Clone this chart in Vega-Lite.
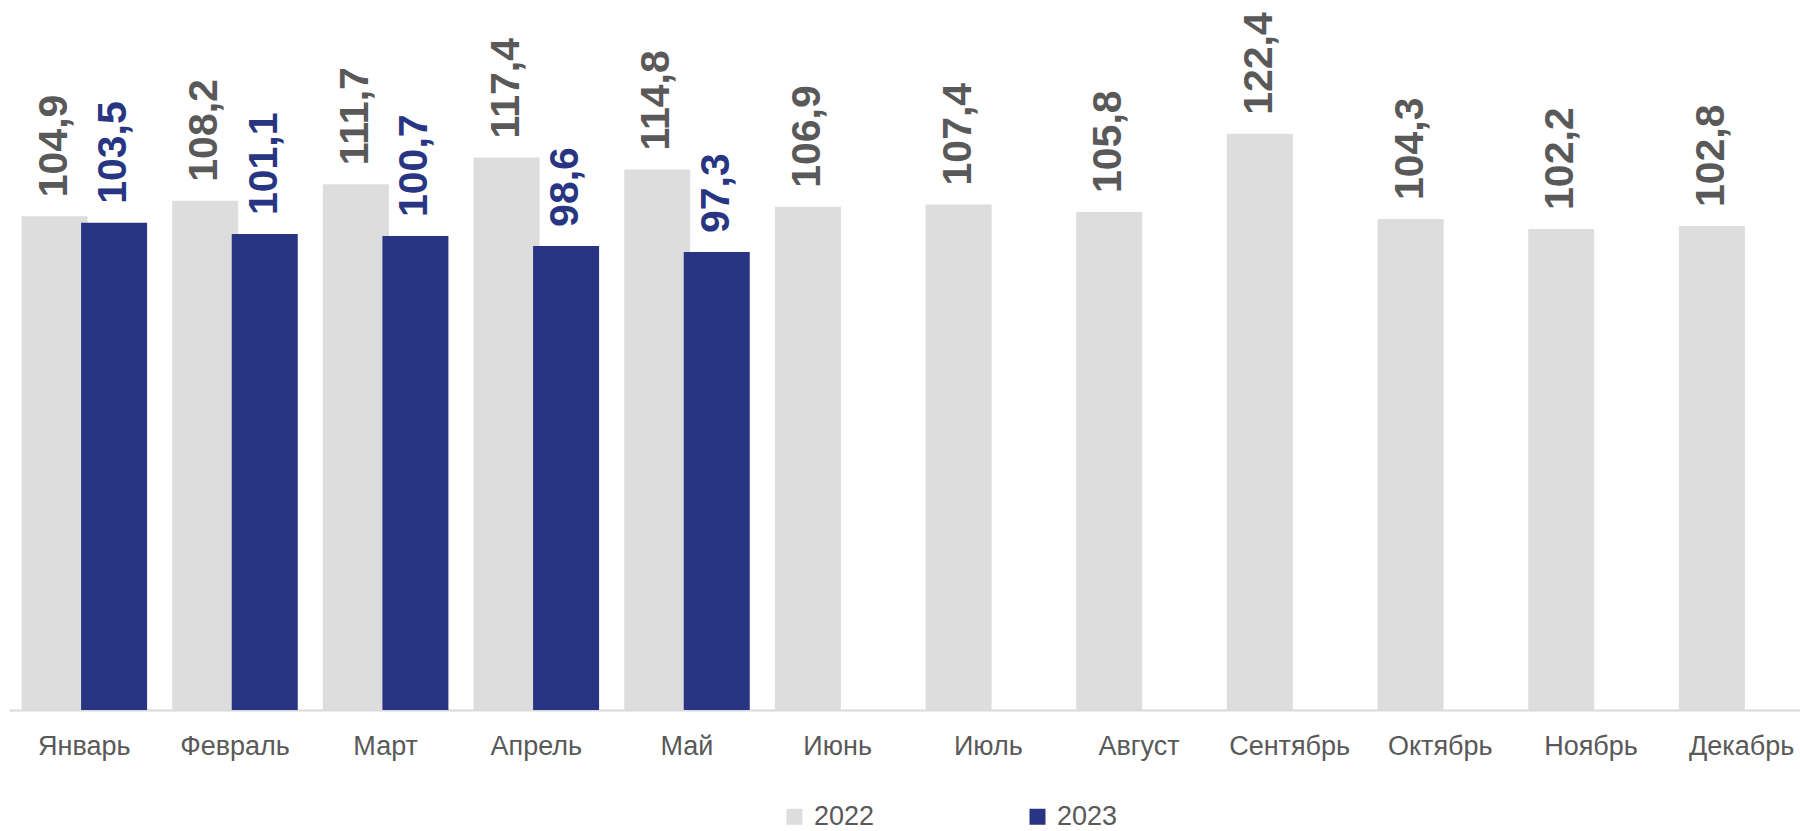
{
  "$schema": "https://vega.github.io/schema/vega-lite/v6.json",
  "autosize": "none",
  "width": 1791,
  "height": 659,
  "padding": {"left": 9, "top": 51, "right": 0, "bottom": 121},
  "background": "white",
  "config": {
    "view": {"stroke": null},
    "font": "Liberation Sans",
    "locale": {"number": {"decimal": ",", "thousands": " ", "grouping": [3], "currency": ["", ""]}}
  },
  "data": {
    "values": [
      {"month": "Январь", "year": "2022", "value": 104.9},
      {"month": "Февраль", "year": "2022", "value": 108.2},
      {"month": "Март", "year": "2022", "value": 111.7},
      {"month": "Апрель", "year": "2022", "value": 117.4},
      {"month": "Май", "year": "2022", "value": 114.8},
      {"month": "Июнь", "year": "2022", "value": 106.9},
      {"month": "Июль", "year": "2022", "value": 107.4},
      {"month": "Август", "year": "2022", "value": 105.8},
      {"month": "Сентябрь", "year": "2022", "value": 122.4},
      {"month": "Октябрь", "year": "2022", "value": 104.3},
      {"month": "Ноябрь", "year": "2022", "value": 102.2},
      {"month": "Декабрь", "year": "2022", "value": 102.8},
      {"month": "Январь", "year": "2023", "value": 103.5},
      {"month": "Февраль", "year": "2023", "value": 101.1},
      {"month": "Март", "year": "2023", "value": 100.7},
      {"month": "Апрель", "year": "2023", "value": 98.6},
      {"month": "Май", "year": "2023", "value": 97.3}
    ]
  },
  "encoding": {
    "x": {
      "field": "month", "type": "nominal",
      "sort": ["Январь","Февраль","Март","Апрель","Май","Июнь","Июль","Август","Сентябрь","Октябрь","Ноябрь","Декабрь"],
      "scale": {"range": [0, 1808], "paddingInner": 0, "paddingOuter": 0},
      "axis": {
        "title": null, "ticks": false, "labelAngle": 0,
        "labelFontSize": 27, "labelColor": "#595959", "labelBaseline": "alphabetic", "labelPadding": 44,
        "domainColor": "#D9D9D9", "domainWidth": 2, "grid": false
      }
    },
    "xOffset": {
      "field": "year", "type": "nominal",
      "scale": {"paddingInner": 0, "paddingOuter": 0.266}
    },
    "y": {
      "field": "value", "type": "quantitative",
      "scale": {"domain": [0, 140], "nice": false},
      "axis": null
    }
  },
  "layer": [
    {
      "mark": {"type": "bar", "width": 66},
      "encoding": {
        "color": {
          "field": "year", "type": "nominal",
          "scale": {"domain": ["2022", "2023"], "range": ["#DDDDDD", "#283583"]},
          "legend": {
            "title": null, "orient": "none", "direction": "horizontal",
            "legendX": 772, "legendY": 752, "padding": 0, "offset": 0,
            "symbolType": "square", "symbolSize": 256, "symbolStrokeWidth": 0,
            "labelFontSize": 27, "labelColor": "#595959", "labelOffset": 6,
            "columnPadding": 149
          }
        }
      }
    },
    {
      "mark": {"type": "text", "angle": 270, "align": "left", "baseline": "middle", "dx": 19, "fontSize": 41, "fontWeight": "bold"},
      "encoding": {
        "text": {"field": "value", "type": "quantitative", "format": ".1f"},
        "color": {"condition": {"test": "datum.year == '2022'", "value": "#595959"}, "value": "#283583"}
      }
    }
  ]
}
